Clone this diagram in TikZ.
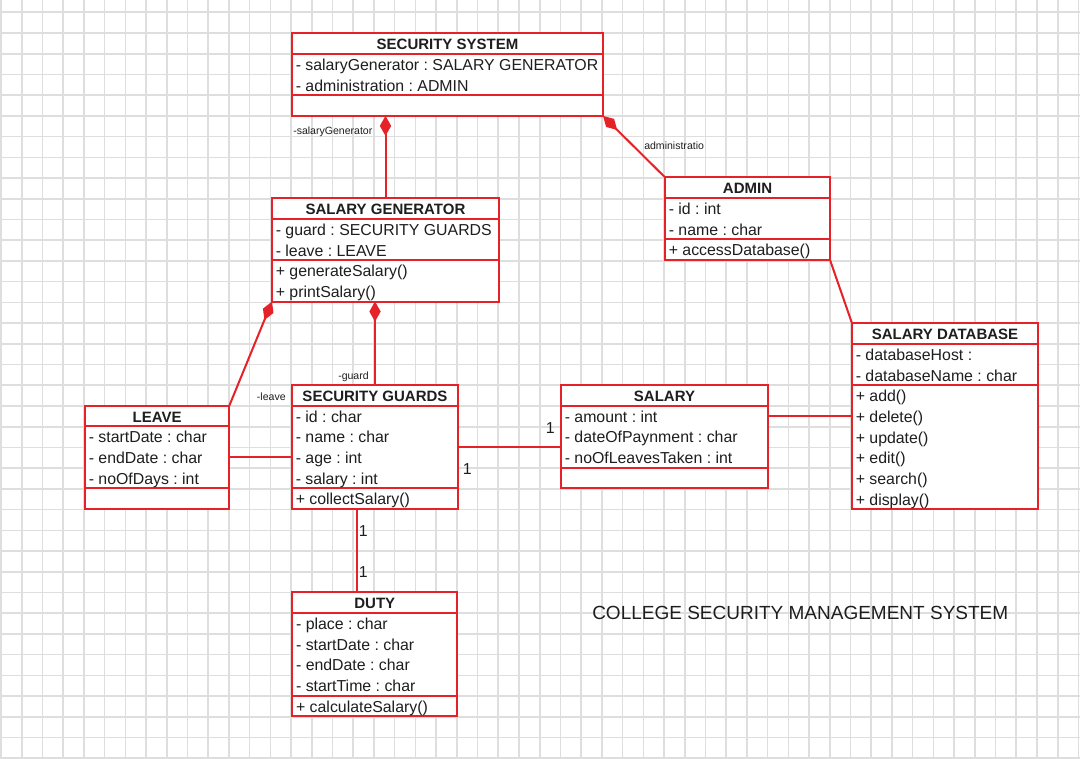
\documentclass[tikz,border=0pt]{standalone}
\usepackage{fontspec}
\setmainfont{Liberation Sans}
\usetikzlibrary{arrows.meta,calc}
\definecolor{umlred}{RGB}{229,34,40}
\definecolor{gridgray}{RGB}{222,222,222}
\definecolor{inkc}{RGB}{30,30,30}
\def\px{0.75pt}
\def\rh{20.65}
\frenchspacing
\tikzset{
 clsbox/.style={draw=umlred, fill=white, line width=1.5pt, rectangle, inner sep=0pt, outer sep=0pt},
 clsline/.style={draw=umlred, line width=1.5pt},
 conn/.style={draw=umlred, line width=1.5pt},
 comp/.style={{Diamond[length=15pt,width=8.5pt,fill=umlred]}-},
 hdrtxt/.style={anchor=base, inner sep=0pt, font=\fontsize{11.25}{13}\selectfont\bfseries, text=inkc},
 rowtxt/.style={anchor=base west, inner sep=0pt, font=\fontsize{11.9}{14}\selectfont, text=inkc},
 lbltxt/.style={anchor=base west, inner sep=0pt, font=\fontsize{7.9}{9}\selectfont, text=inkc},
 titletxt/.style={anchor=base west, inner sep=0pt, font=\fontsize{14.25}{16}\selectfont, text=inkc},
 gridline/.style={draw=gridgray, line width=1.2pt},
}
\newcommand\umlbox[5]{\node[clsbox, minimum width=#4*\px, minimum height=#5*\rh*\px, anchor=north west] (#1) at (#2,#3) {};}
\newcommand\umlhead[2]{\node[hdrtxt] (#1-h) at ($(#1.north)+(0,16.5)$) {#2};}
\newcommand\umlrow[3]{\node[rowtxt] (#1-r#2) at ($(#1.north west)+(3.5,{#2*\rh+16.5})$) {#3};}
\newcommand\umldiv[2]{\draw[clsline] ($(#1.north west)+(0,{#2*\rh})$) -- ($(#1.north east)+(0,{#2*\rh})$);}
\begin{document}
\begin{tikzpicture}[x=0.75pt,y=-0.75pt]
\useasboundingbox (0,0) rectangle (1080,759);
\fill[white] (0,0) rectangle (1080,759);
\foreach \i in {0,...,52} \draw[gridline] ({1+20.72*\i},0) -- ({1+20.72*\i},759);
\foreach \j in {0,...,36} \draw[gridline] (0,{12.3+20.72*\j}) -- (1080,{12.3+20.72*\j});

% SECURITY SYSTEM
\umlbox{ss}{292}{33.3}{311}{4}
\umldiv{ss}{1}\umldiv{ss}{3}
\umlhead{ss}{SECURITY SYSTEM}
\umlrow{ss}{1}{- salaryGenerator : SALARY GENERATOR}
\umlrow{ss}{2}{- administration : ADMIN}

% SALARY GENERATOR
\umlbox{sg}{272}{198.3}{227}{5}
\umldiv{sg}{1}\umldiv{sg}{3}
\umlhead{sg}{SALARY GENERATOR}
\umlrow{sg}{1}{- guard : SECURITY GUARDS}
\umlrow{sg}{2}{- leave : LEAVE}
\umlrow{sg}{3}{+ generateSalary()}
\umlrow{sg}{4}{+ printSalary()}

% ADMIN
\umlbox{admin}{665}{177.3}{165}{4}
\umldiv{admin}{1}\umldiv{admin}{3}
\umlhead{admin}{ADMIN}
\umlrow{admin}{1}{- id : int}
\umlrow{admin}{2}{- name : char}
\umlrow{admin}{3}{+ accessDatabase()}

% SALARY DATABASE
\umlbox{db}{852}{323.3}{186}{9}
\umldiv{db}{1}\umldiv{db}{3}
\umlhead{db}{SALARY DATABASE}
\umlrow{db}{1}{- databaseHost :}
\umlrow{db}{2}{- databaseName : char}
\umlrow{db}{3}{+ add()}
\umlrow{db}{4}{+ delete()}
\umlrow{db}{5}{+ update()}
\umlrow{db}{6}{+ edit()}
\umlrow{db}{7}{+ search()}
\umlrow{db}{8}{+ display()}

% SALARY
\umlbox{salary}{561}{385}{207}{5}
\umldiv{salary}{1}\umldiv{salary}{4}
\umlhead{salary}{SALARY}
\umlrow{salary}{1}{- amount : int}
\umlrow{salary}{2}{- dateOfPaynment : char}
\umlrow{salary}{3}{- noOfLeavesTaken : int}

% SECURITY GUARDS
\umlbox{sgd}{292}{385}{166}{6}
\umldiv{sgd}{1}\umldiv{sgd}{5}
\umlhead{sgd}{SECURITY GUARDS}
\umlrow{sgd}{1}{- id : char}
\umlrow{sgd}{2}{- name : char}
\umlrow{sgd}{3}{- age : int}
\umlrow{sgd}{4}{- salary : int}
\umlrow{sgd}{5}{+ collectSalary()}

% LEAVE
\umlbox{leave}{85}{405.7}{144.3}{5}
\umldiv{leave}{1}\umldiv{leave}{4}
\umlhead{leave}{LEAVE}
\umlrow{leave}{1}{- startDate : char}
\umlrow{leave}{2}{- endDate : char}
\umlrow{leave}{3}{- noOfDays : int}

% DUTY
\umlbox{duty}{292.3}{592.3}{165}{6}
\umldiv{duty}{1}\umldiv{duty}{5}
\umlhead{duty}{DUTY}
\umlrow{duty}{1}{- place : char}
\umlrow{duty}{2}{- startDate : char}
\umlrow{duty}{3}{- endDate : char}
\umlrow{duty}{4}{- startTime : char}
\umlrow{duty}{5}{+ calculateSalary()}

% connectors
\draw[conn, comp] (ss.south -| sg.north) -- (sg.north);
\draw[conn, comp] (ss.south east) -- (admin.north west);
\draw[conn] (admin.south east) -- (db.north west);
\draw[conn, comp] (sg.south west) -- (leave.north east);
\draw[conn, comp] (sg.south -| sgd.north) -- (sgd.north);
\draw[conn] (leave.east) -- (leave.east -| sgd.west);
\draw[conn] (sgd.east) -- (sgd.east -| salary.west);
\draw[conn] (salary.east |- db.west) -- (db.west);
\coordinate (gd) at ($(sgd.south west)+(65.3,0)$);
\draw[conn] (gd) -- (gd |- duty.north);

% labels
\node[lbltxt] (l-sg) at (293,134.5) {-salaryGenerator};
\node[lbltxt] (l-ad) at (644,150) {administratio};
\node[lbltxt] (l-gd) at (338,379.5) {-guard};
\node[lbltxt] (l-lv) at (256.7,400) {-leave};
\node[rowtxt] (m1) at (545.5,433) {1};
\node[rowtxt] (m2) at (462.5,474) {1};
\node[rowtxt] (m3) at (358.5,536.7) {1};
\node[rowtxt] (m4) at (358.5,577.3) {1};

\node[titletxt] (title) at (592,619) {COLLEGE SECURITY MANAGEMENT SYSTEM};
\end{tikzpicture}
\end{document}
